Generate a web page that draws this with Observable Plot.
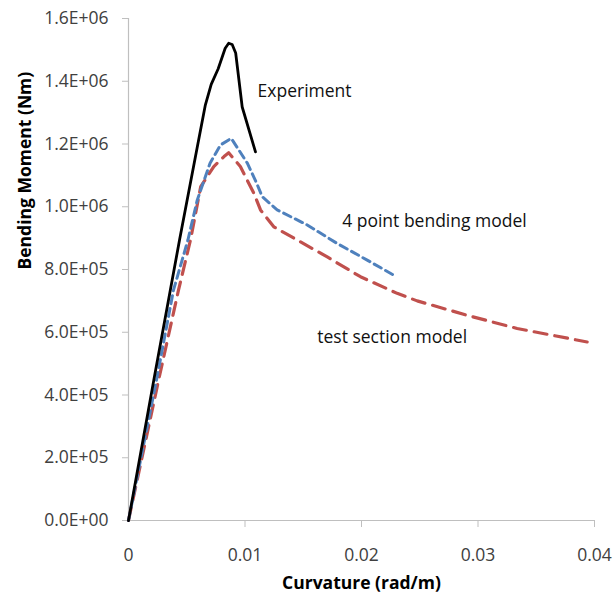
<!DOCTYPE html>
<html>
<head>
<meta charset="utf-8">
<script src="https://cdn.jsdelivr.net/npm/d3@7"></script>
<script src="https://cdn.jsdelivr.net/npm/@observablehq/plot@0.6"></script>
<style>
  html, body { margin: 0; padding: 0; background: #fff; }
  #chart svg { display: block; }
</style>
</head>
<body>
<div id="chart"></div>
<script>
// Moment–curvature response: test vs two numerical models
const expCurvature = [0, 0.00217, 0.00438, 0.0059, 0.0066, 0.0071, 0.0077, 0.0083, 0.0086, 0.0089, 0.0092, 0.00976, 0.0109];
const expMoment    = [0, 447e3, 894e3, 1.19e6, 1.325e6, 1.39e6, 1.44e6, 1.505e6, 1.521e6, 1.517e6, 1.49e6, 1.318e6, 1.175e6];

const fourPtCurvature = [0, 0.0024, 0.00386, 0.0051, 0.0059, 0.0070, 0.0079, 0.00882, 0.0102, 0.0110, 0.01148, 0.01276, 0.01534, 0.01791, 0.02049, 0.02277];
const fourPtMoment    = [0, 447e3, 734e3, 894e3, 1.021e6, 1.139e6, 1.197e6, 1.218e6, 1.139e6, 1.075e6, 1.032e6, 0.990e6, 0.942e6, 0.883e6, 0.830e6, 0.782e6];

const sectionCurvature = [0, 0.00258, 0.00429, 0.00532, 0.0062, 0.00732, 0.0082, 0.0086, 0.0096, 0.01076, 0.01133, 0.01247, 0.01448, 0.01706, 0.01991, 0.02306, 0.02478, 0.02907, 0.03336, 0.03937];
const sectionMoment    = [0, 447e3, 734e3, 894e3, 1.064e6, 1.128e6, 1.16e6, 1.172e6, 1.128e6, 1.043e6, 0.99e6, 0.936e6, 0.894e6, 0.84e6, 0.777e6, 0.724e6, 0.70e6, 0.654e6, 0.612e6, 0.569e6];

const xTicks = [0, 0.01, 0.02, 0.03, 0.04];
const yTicks = [0, 2e5, 4e5, 6e5, 8e5, 1e6, 1.2e6, 1.4e6, 1.6e6];

const seriesNames = ["Experiment", "4 point bending model", "test section model"];
const labelCurvature = [0.01108, 0.01834, 0.0162];
const labelMoment = [1.367e6, 0.954e6, 0.585e6];

const toPoints = (xs, ys) => xs.map((x, i) => ({x, y: ys[i]}));
const labels = seriesNames.map((t, i) => ({text: t, x: labelCurvature[i], y: labelMoment[i]}));

// Spreadsheet-style scientific notation, e.g. 1.6E+06
const sci = v => {
  const [m, e] = v.toExponential(1).split("e");
  return `${m}E${e[0]}${e.slice(1).padStart(2, "0")}`;
};
const plain = v => (v === 0 ? "0" : String(v));

const axisGray = "#bfbfbf";
const textGray = "#404040";

const chart = Plot.plot({
  width: 614,
  height: 598,
  marginLeft: 128,
  marginRight: 20,
  marginTop: 18,
  marginBottom: 78,
  x: {domain: [0, 0.04]},
  y: {domain: [0, 1.6e6]},
  style: {fontFamily: "'Open Sans', sans-serif", fontSize: "17.5px", background: "#fff"},
  marks: [
    Plot.ruleX([0], {stroke: axisGray, strokeWidth: 1.2}),
    Plot.ruleY([0], {stroke: axisGray, strokeWidth: 1.2}),
    Plot.axisY(yTicks, {tickSize: 6, tickPadding: 14, tickFormat: sci, stroke: axisGray, fill: textGray, label: null}),
    Plot.axisX(xTicks.filter(d => d > 0), {tickSize: 7, text: null, stroke: axisGray, label: null}),
    Plot.axisX(xTicks, {tickSize: 0, tickPadding: 28, tickFormat: plain, fill: textGray, label: null}),
    Plot.text(["Bending Moment (Nm)"], {frameAnchor: "left", dx: -103, rotate: -90, fontWeight: "bold", fill: "#000"}),
    Plot.text(["Curvature (rad/m)"], {frameAnchor: "bottom", dy: 68, fontWeight: "bold", fill: "#000"}),
    Plot.line(toPoints(sectionCurvature, sectionMoment), {x: "x", y: "y", stroke: "#c0504d", strokeWidth: 3.2, strokeDasharray: "13,8"}),
    Plot.line(toPoints(fourPtCurvature, fourPtMoment), {x: "x", y: "y", stroke: "#4f81bd", strokeWidth: 3, strokeDasharray: "8,5"}),
    Plot.line(toPoints(expCurvature, expMoment), {x: "x", y: "y", stroke: "#000", strokeWidth: 2.8, strokeLinejoin: "round"}),
    Plot.text(labels, {x: "x", y: "y", text: "text", textAnchor: "start", fill: "#111"})
  ]
});

document.getElementById("chart").append(chart);
</script>
</body>
</html>
